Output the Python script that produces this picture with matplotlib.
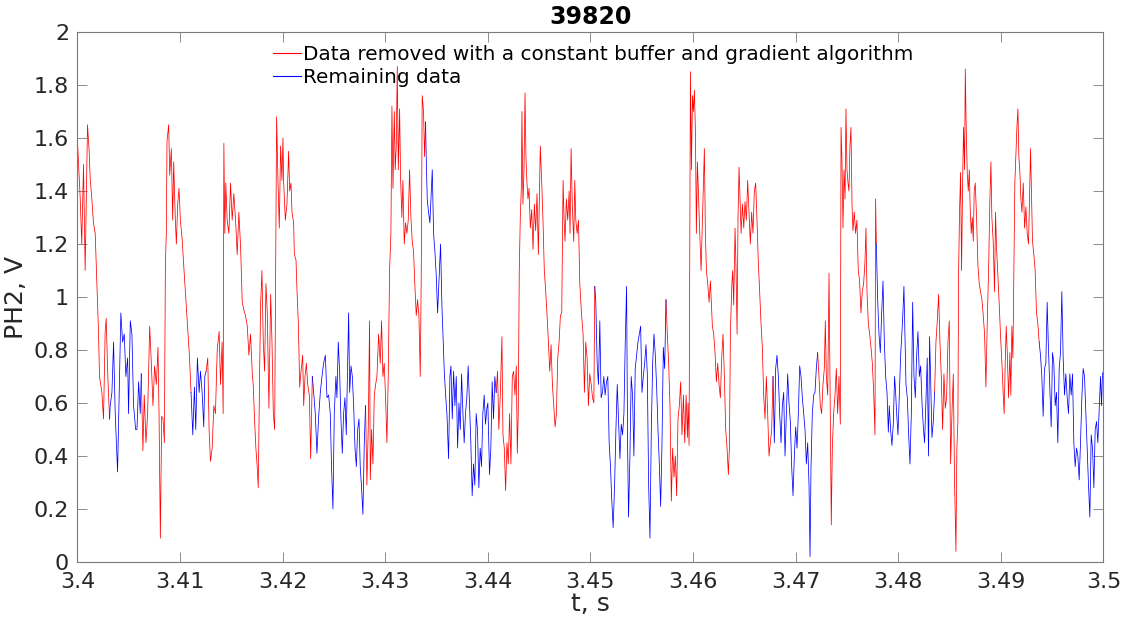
import numpy as np
import matplotlib
matplotlib.use("Agg")
from matplotlib import pyplot as plt

# time offsets in ms after 3.4 s, and PH2 signal in V
t_a = [0.00, 0.26, 0.42, 0.59, 0.75, 0.98, 1.14, 1.24, 1.40, 1.56, 1.73, 1.89, 2.05, 2.15, 2.38, 2.54,
       2.70, 2.80, 2.96, 3.13, 3.19, 3.36, 3.52, 3.68, 3.91, 4.10, 4.23, 4.40, 4.56, 4.72, 4.89, 4.98,
       5.15, 5.31, 5.47, 5.67, 5.80, 5.96, 6.12, 6.22, 6.38, 6.51, 6.68, 6.84, 7.04, 7.20, 7.36, 7.52,
       7.69, 7.85, 7.95, 8.08, 8.21, 8.34, 8.47, 8.57, 8.66, 8.73, 8.89, 8.99, 9.15, 9.28, 9.38, 9.54,
       9.64, 9.77, 9.90, 10.03, 10.20, 10.29, 10.42, 10.55, 10.65, 10.78, 10.91, 11.07, 11.24, 11.40,
       11.53, 11.69, 11.86, 11.99, 12.15, 12.31, 12.41, 12.54, 12.70, 12.83, 12.96, 13.13, 13.29, 13.45,
       13.62, 13.81, 13.94, 14.10, 14.20, 14.27, 14.36, 14.46, 14.59, 14.76, 14.92, 15.08, 15.24, 15.41,
       15.57, 15.73, 15.90, 16.06, 16.22, 16.38, 16.55, 16.71, 16.87, 17.04, 17.13, 17.26, 17.39, 17.52,
       17.62, 17.75, 17.85, 17.98, 18.11, 18.24, 18.37, 18.50, 18.66, 18.83, 18.96, 19.09, 19.22, 19.32,
       19.41, 19.54, 19.67, 19.80, 19.93, 20.03]
v_a = [1.59, 1.38, 1.20, 1.50, 1.10, 1.65, 1.55, 1.45, 1.37, 1.28, 1.24, 1.05, 0.87, 0.70, 0.64, 0.54,
       0.87, 0.92, 0.70, 0.54, 0.59, 0.64, 0.83, 0.56, 0.34, 0.70, 0.94, 0.83, 0.86, 0.70, 0.77, 0.56,
       0.91, 0.86, 0.59, 0.50, 0.50, 0.68, 0.56, 0.71, 0.42, 0.63, 0.45, 0.56, 0.89, 0.75, 0.59, 0.74,
       0.67, 0.81, 0.56, 0.09, 0.55, 0.54, 0.45, 1.12, 1.24, 1.59, 1.65, 1.46, 1.56, 1.29, 1.51, 1.29,
       1.20, 1.35, 1.41, 1.29, 1.22, 1.16, 1.08, 1.00, 0.94, 0.86, 0.78, 0.64, 0.48, 0.66,
       0.50, 0.77, 0.64, 0.72, 0.64, 0.51, 0.70, 0.72, 0.77, 0.50, 0.38, 0.43, 0.59, 0.56,
       0.80, 0.87, 0.67, 0.83, 0.56, 1.58, 1.24, 1.43, 1.29, 1.24, 1.43, 1.29, 1.39, 1.29,
       1.16, 1.32, 1.19, 0.98, 0.95, 0.93, 0.89, 0.78, 0.86, 0.71, 0.67, 0.54, 0.43, 0.36,
       0.28, 0.70, 0.97, 1.10, 0.83, 0.72, 1.05, 0.94, 0.58, 1.01, 0.83, 0.56, 0.50, 1.10,
       1.68, 1.44, 1.26, 1.57, 1.44, 1.60]

t_b = [20.10, 20.26, 20.42, 20.58, 20.68, 20.81, 20.91, 21.07, 21.14, 21.30, 21.40, 21.53, 21.66, 21.79,
       21.95, 22.05, 22.18, 22.31, 22.44, 22.60, 22.73, 22.89, 23.02, 23.18, 23.34, 23.51, 23.67, 23.83,
       23.99, 24.16, 24.32, 24.48, 24.64, 24.77, 24.90, 25.03, 25.19, 25.29, 25.42, 25.55, 25.68, 25.81,
       25.94, 26.07, 26.20, 26.33, 26.43, 26.53, 26.66, 26.79, 26.92, 27.05, 27.18, 27.31, 27.44, 27.56,
       27.69, 27.82, 27.95, 28.08, 28.21, 28.34, 28.47, 28.54, 28.67, 28.80, 28.93, 29.06, 29.19, 29.35,
       29.51, 29.64, 29.77, 29.90, 30.03, 30.16, 30.29, 30.42, 30.55, 30.65, 30.75, 30.88, 30.97, 31.07,
       31.17, 31.27, 31.40, 31.49, 31.62, 31.72, 31.85, 31.98, 32.11, 32.24, 32.37, 32.50, 32.63, 32.76,
       32.89, 33.02, 33.15, 33.28, 33.41, 33.51, 33.60, 33.73, 33.83, 33.93, 33.99, 34.09, 34.22, 34.35,
       34.45, 34.58, 34.71, 34.84, 34.97, 35.10, 35.26, 35.39, 35.52, 35.65, 35.75, 35.88, 36.01, 36.17,
       36.30, 36.40, 36.53, 36.66, 36.79, 36.92, 37.05, 37.18, 37.31, 37.44, 37.57, 37.69, 37.82, 37.95,
       38.08, 38.21, 38.34, 38.47, 38.60, 38.73, 38.86, 38.99, 39.12, 39.25, 39.38, 39.51, 39.64, 39.77,
       39.90]
v_b = [1.43, 1.29, 1.35, 1.55, 1.40, 1.43, 1.32, 1.28, 1.16, 1.14, 1.02, 0.90, 0.66, 0.72,
       0.78, 0.59, 0.70, 0.75, 0.67, 0.63, 0.39, 0.70, 0.64, 0.56, 0.41, 0.55, 0.64, 0.70,
       0.75, 0.78, 0.62, 0.63, 0.56, 0.35, 0.20, 0.56, 0.70, 0.62, 0.83, 0.72, 0.54, 0.41,
       0.56, 0.62, 0.48, 0.75, 0.94, 0.64, 0.74, 0.70, 0.59, 0.43, 0.36, 0.50, 0.54, 0.36,
       0.28, 0.18, 0.44, 0.59, 0.29, 0.50, 0.91, 0.31, 0.50, 0.37, 0.63, 0.67, 0.70, 0.86,
       0.75, 0.91, 0.70, 0.75, 0.62, 0.45, 0.70, 1.10, 1.24, 1.72, 1.41, 1.70, 1.48, 1.57,
       1.87, 1.48, 1.71, 1.45, 1.30, 1.44, 1.20, 1.28, 1.24, 1.29, 1.48, 1.30, 1.21, 1.17,
       1.04, 0.93, 0.99, 0.93, 0.70, 1.10, 1.76, 1.70, 1.53, 1.66, 1.53, 1.37, 1.32, 1.28,
       1.37, 1.48, 1.24, 1.17, 1.08, 0.94, 1.08, 1.20, 0.97, 0.83, 0.72, 0.63, 0.56, 0.39,
       0.70, 0.74, 0.54, 0.72, 0.59, 0.70, 0.43, 0.60, 0.50, 0.71, 0.56, 0.45, 0.56, 0.62,
       0.74, 0.59, 0.45, 0.25, 0.37, 0.29, 0.56, 0.50, 0.28, 0.43, 0.36, 0.56, 0.63, 0.52,
       0.58]

t_c = [40.00, 40.16, 40.29, 40.42, 40.55, 40.68, 40.81, 40.94, 41.07, 41.21, 41.37, 41.47, 41.60, 41.73,
       41.86, 41.99, 42.12, 42.25, 42.38, 42.51, 42.64, 42.77, 42.87, 42.96, 43.06, 43.16, 43.26, 43.32,
       43.42, 43.52, 43.62, 43.71, 43.81, 43.91, 44.01, 44.14, 44.27, 44.40, 44.53, 44.66, 44.79, 44.92,
       45.02, 45.11, 45.24, 45.37, 45.50, 45.64, 45.77, 45.90, 46.03, 46.16, 46.29, 46.42, 46.55, 46.68,
       46.81, 46.94, 47.07, 47.20, 47.33, 47.43, 47.52, 47.65, 47.78, 47.92, 48.01, 48.11, 48.24, 48.37,
       48.47, 48.57, 48.70, 48.83, 48.96, 49.12, 49.28, 49.41, 49.54, 49.67, 49.80, 49.93, 50.07, 50.20,
       50.33, 50.42, 50.52, 50.65, 50.78, 50.91, 51.04, 51.17, 51.30, 51.43, 51.56, 51.69, 51.82, 51.95,
       52.08, 52.21, 52.35, 52.48, 52.61, 52.74, 52.87, 53.00, 53.13, 53.26, 53.39, 53.52, 53.62, 53.71,
       53.84, 53.97, 54.10, 54.23, 54.36, 54.50, 54.63, 54.76, 54.89, 55.02, 55.15, 55.28, 55.41, 55.54,
       55.67, 55.80, 55.93, 56.06, 56.19, 56.32, 56.45, 56.58, 56.71, 56.84, 56.97, 57.10, 57.23, 57.36,
       57.49, 57.62, 57.75, 57.88, 58.01, 58.14, 58.27, 58.40, 58.53, 58.66, 58.79, 58.92, 59.06, 59.19,
       59.32, 59.45]
v_c = [0.60, 0.33, 0.43, 0.68, 0.54, 0.70, 0.64, 0.72, 0.50, 0.63, 0.85, 0.48, 0.43, 0.27,
       0.45, 0.37, 0.56, 0.37, 0.70, 0.72, 0.63, 0.74, 0.41, 0.56, 1.10, 1.30, 1.41, 1.70,
       1.35, 1.48, 1.77, 1.53, 1.43, 1.37, 1.41, 1.26, 1.33, 1.18, 1.35, 1.25, 1.39, 1.16,
       1.37, 1.57, 1.44, 1.29, 1.10, 1.02, 0.93, 0.83, 0.72, 0.82, 0.67, 0.59, 0.51, 0.56,
       0.77, 0.83, 0.93, 0.94, 1.44, 1.29, 1.21, 1.37, 1.29, 1.40, 1.24, 1.56, 1.33, 1.21,
       1.44, 1.29, 1.24, 1.29, 1.05, 0.94, 0.86, 0.64, 0.83, 0.77, 0.59, 0.71, 0.67, 0.62,
       0.60, 1.04, 0.98, 0.75, 0.67, 0.91, 0.62, 0.64, 0.70, 0.63, 0.68, 0.70, 0.45, 0.36,
       0.23, 0.13, 0.29, 0.50, 0.67, 0.53, 0.39, 0.52, 0.48, 0.56, 0.83, 1.04, 0.43, 0.17,
       0.39, 0.70, 0.63, 0.40, 0.73, 0.78, 0.83, 0.86, 0.89, 0.64, 0.70, 0.75, 0.82, 0.71,
       0.29, 0.09, 0.50, 0.75, 0.86, 0.78, 0.66, 0.50, 0.37, 0.21, 0.45, 0.81, 0.73, 0.99,
       0.86, 0.75, 0.59, 0.23, 0.43, 0.32, 0.40, 0.25, 0.54, 0.59, 0.68, 0.48, 0.63, 0.45,
       0.63, 0.47]

t_d = [59.51, 59.61, 59.68, 59.74, 59.84, 59.94, 60.03, 60.13, 60.23, 60.32, 60.42, 60.52, 60.58, 60.68,
       60.78, 60.88, 60.97, 61.10, 61.20, 61.30, 61.43, 61.56, 61.69, 61.79, 61.88, 62.01, 62.14, 62.27,
       62.40, 62.53, 62.66, 62.79, 62.92, 63.05, 63.18, 63.31, 63.44, 63.54, 63.64, 63.77, 63.86, 63.96,
       64.09, 64.19, 64.29, 64.38, 64.48, 64.58, 64.68, 64.81, 64.94, 65.06, 65.19, 65.32, 65.45, 65.58,
       65.71, 65.84, 65.97, 66.10, 66.23, 66.36, 66.49, 66.62, 66.75, 66.88, 67.01, 67.14, 67.27, 67.40,
       67.53, 67.66, 67.79, 67.92, 68.05, 68.18, 68.31, 68.44, 68.57, 68.70, 68.83, 68.96, 69.09, 69.22,
       69.35, 69.48, 69.61, 69.74, 69.87, 70.00, 70.13, 70.26, 70.39, 70.52, 70.65, 70.78, 70.91, 71.04,
       71.17, 71.30, 71.40, 71.49, 71.62, 71.75, 71.88, 72.01, 72.14, 72.27, 72.40, 72.53, 72.66, 72.79,
       72.89, 72.99, 73.12, 73.25, 73.38, 73.47, 73.57, 73.70, 73.83, 73.96, 74.09, 74.22, 74.35, 74.42,
       74.51, 74.61, 74.71, 74.81, 74.90, 75.00, 75.10, 75.19, 75.29, 75.39, 75.49, 75.58, 75.71, 75.84,
       75.97, 76.10, 76.23, 76.36, 76.49, 76.62, 76.75, 76.85, 76.95, 77.08, 77.21, 77.34, 77.47, 77.60,
       77.73, 77.79, 77.86, 77.99, 78.12, 78.25, 78.38, 78.51, 78.64, 78.77, 78.90, 79.03]
v_d = [0.60, 0.44, 1.24, 1.85, 1.48, 1.76, 1.70, 1.78, 1.62, 1.24, 1.51, 1.40, 1.32, 1.21,
       1.10, 1.24, 1.37, 1.56, 1.24, 1.10, 1.05, 0.98, 1.06, 0.97, 0.89, 0.86, 0.79, 0.68,
       0.75, 0.67, 0.62, 0.77, 0.86, 0.70, 0.50, 0.43, 0.33, 0.43, 0.87, 1.04, 1.10, 0.97,
       1.26, 1.10, 0.86, 1.30, 1.49, 1.37, 1.24, 1.35, 1.26, 1.36, 1.29, 1.44, 1.32, 1.20,
       1.32, 1.24, 1.40, 1.43, 1.29, 1.13, 1.02, 0.90, 0.81, 0.63, 0.54, 0.70, 0.56, 0.40,
       0.45, 0.50, 0.70, 0.45, 0.73, 0.78, 0.70, 0.56, 0.45, 0.59, 0.64, 0.40, 0.56, 0.71,
       0.60, 0.53, 0.36, 0.25, 0.40, 0.51, 0.43, 0.56, 0.74, 0.70, 0.62, 0.56, 0.50, 0.37,
       0.45, 0.29, 0.02, 0.35, 0.56, 0.63, 0.64, 0.73, 0.79, 0.70, 0.59, 0.56, 0.67, 0.73,
       0.91, 0.70, 0.63, 1.09, 0.50, 0.14, 0.43, 0.56, 0.63, 0.73, 0.56, 0.70, 0.52, 1.64,
       1.52, 1.26, 1.48, 1.37, 1.71, 1.48, 1.43, 1.40, 1.57, 1.64, 1.35, 1.25, 1.32, 1.24,
       1.29, 1.10, 1.06, 0.94, 1.02, 1.05, 1.13, 1.26, 1.02, 0.90, 0.86, 0.81, 0.75, 0.64,
       0.48, 1.37, 1.20, 0.99, 0.86, 0.79, 0.94, 1.06, 0.83, 0.70, 0.64, 0.49]

t_e = [79.12, 79.25, 79.38, 79.51, 79.64, 79.74, 79.84, 79.97, 80.10, 80.23, 80.36, 80.45, 80.55, 80.65,
       80.75, 80.88, 81.01, 81.14, 81.27, 81.40, 81.53, 81.66, 81.79, 81.92, 82.05, 82.18, 82.31, 82.44,
       82.56, 82.69, 82.82, 82.95, 83.05, 83.15, 83.28, 83.41, 83.54, 83.67, 83.80, 83.93, 84.06, 84.19,
       84.32, 84.45, 84.58, 84.71, 84.84, 84.97, 85.10, 85.23, 85.36, 85.49, 85.62, 85.71, 85.81, 85.88,
       85.97, 86.07, 86.17, 86.27, 86.36, 86.46, 86.53, 86.62, 86.72, 86.82, 86.92, 87.01, 87.11, 87.21,
       87.31, 87.40, 87.50, 87.63, 87.76, 87.89, 88.02, 88.15, 88.28, 88.41, 88.54, 88.67, 88.80, 88.93,
       89.03, 89.12, 89.25, 89.38, 89.48, 89.58, 89.71, 89.84, 89.97, 90.10, 90.23, 90.32, 90.42, 90.52,
       90.62, 90.75, 90.88, 90.97, 91.07, 91.17, 91.27, 91.36, 91.46, 91.56, 91.66, 91.75, 91.85, 91.95,
       92.05, 92.18, 92.31, 92.44, 92.56, 92.69, 92.79, 92.89, 92.99, 93.08, 93.21, 93.34, 93.47, 93.60,
       93.73, 93.86, 93.99, 94.12, 94.25, 94.38, 94.51, 94.64, 94.77, 94.90, 95.03, 95.16, 95.29, 95.42,
       95.55, 95.68, 95.81, 95.94, 96.07, 96.20, 96.33, 96.46, 96.59, 96.72, 96.85, 96.98, 97.11, 97.24,
       97.37, 97.50, 97.63, 97.76, 97.89, 98.02, 98.15, 98.28, 98.41, 98.54, 98.67, 98.80, 98.93, 99.06,
       99.19, 99.32, 99.45, 99.58, 99.71, 99.81, 99.90, 100.00]
v_e = [0.59, 0.50, 0.44, 0.52, 0.70, 0.64, 0.56, 0.48, 0.63, 0.78, 0.87, 0.94, 1.04, 0.86,
       0.67, 0.62, 0.48, 0.37, 0.56, 0.98, 0.70, 0.62, 0.78, 0.87, 0.70, 0.74, 0.60, 0.51,
       0.45, 0.60, 0.77, 0.40, 0.85, 0.70, 0.47, 0.53, 0.64, 0.83, 0.91, 1.01, 0.83, 0.70,
       0.50, 0.71, 0.58, 0.62, 0.83, 0.91, 0.37, 0.56, 0.71, 0.29, 0.04, 0.43, 0.53, 1.10,
       1.32, 1.47, 1.10, 1.44, 1.64, 1.48, 1.86, 1.64, 1.47, 1.40, 1.48, 1.33, 1.24, 1.30,
       1.21, 1.40, 1.43, 1.30, 1.12, 1.05, 1.02, 0.99, 0.93, 0.86, 0.66, 0.90, 1.10, 1.37,
       1.51, 1.30, 1.21, 1.02, 1.32, 1.18, 1.08, 0.97, 0.85, 0.75, 0.63, 0.56, 0.75, 0.89,
       0.79, 0.62, 0.79, 0.63, 0.89, 0.77, 1.10, 1.43, 1.53, 1.64, 1.71, 1.53, 1.47, 1.37,
       1.32, 1.43, 1.26, 1.34, 1.24, 1.20, 1.37, 1.56, 1.37, 1.21, 1.16, 1.10, 0.94, 0.90,
       0.83, 0.78, 0.70, 0.55, 0.73, 0.75, 0.98, 0.80, 0.66, 0.51, 0.79, 0.75, 0.59, 0.64,
       0.45, 0.73, 0.79, 1.02, 0.77, 0.63, 0.71, 0.62, 0.56, 0.71, 0.63, 0.71, 0.45, 0.36,
       0.43, 0.40, 0.31, 0.45, 0.62, 0.73, 0.70, 0.56, 0.43, 0.29, 0.17, 0.48, 0.43, 0.28,
       0.50, 0.53, 0.45, 0.58, 0.70, 0.59, 0.71, 0.72]

# stretches (ms after 3.4 s) that were kept by the algorithm
kept_ms = [(3.0, 6.25), (10.95, 12.55), (22.76, 28.1), (33.9, 40.9),
           (50.35, 57.45), (67.75, 72.25), (77.85, 83.65), (93.7, 100.0)]

t0 = 3.4
t = t0 + np.array(t_a + t_b + t_c + t_d + t_e) / 1000.0
ph2 = np.array(v_a + v_b + v_c + v_d + v_e)

kept = np.zeros(len(t), dtype=bool)
for lo, hi in kept_ms:
    kept |= (t >= t0 + lo / 1000.0) & (t <= t0 + hi / 1000.0)

# removed part: every sample not kept, plus its neighbours so the trace stays joined
removed = ~kept
removed_ext = removed.copy()
removed_ext[1:] |= removed[:-1]
removed_ext[:-1] |= removed[1:]
ph2_removed = np.where(removed_ext, ph2, np.nan)
ph2_kept = np.where(kept, ph2, np.nan)

plt.rcParams['font.family'] = ['DejaVu Sans']
fig = plt.figure(figsize=(11.34, 6.26), dpi=100)
ax = fig.add_axes([0.0683, 0.1022, 0.9048, 0.8467])

ax.plot(t, ph2_removed, color='red', linewidth=0.55,
        label='Data removed with a constant buffer and gradient algorithm')
ax.plot(t, ph2_kept, color='blue', linewidth=0.55, label='Remaining data')

ax.set_xlim(3.4, 3.5)
ax.set_ylim(0, 2)
xt = np.round(np.arange(3.4, 3.5001, 0.01), 2)
yt = np.round(np.arange(0, 2.001, 0.2), 1)
ax.set_xticks(xt)
ax.set_xticklabels(['%g' % v for v in xt])
ax.set_yticks(yt)
ax.set_yticklabels(['%g' % v for v in yt])

ax.tick_params(direction='in', top=True, right=True, length=7, width=0.6,
               color='#7a7a7a', labelsize=16, labelcolor='#262626', pad=6)
ax.tick_params(axis='x', pad=7)
for sp in ax.spines.values():
    sp.set_color('#7a7a7a')
    sp.set_linewidth(0.8)

ax.set_xlabel('t, s', fontsize=18, color='#262626', labelpad=0)
ax.set_ylabel('PH2, V', fontsize=18, color='#262626', labelpad=4)
ax.set_title('39820', fontsize=17, fontweight='bold', color='black', pad=6)

leg = ax.legend(loc='upper left', bbox_to_anchor=(0.1905, 0.976), frameon=False, fontsize=14.4,
                handlelength=1.4, handletextpad=0.12, borderpad=0, borderaxespad=0,
                labelspacing=0.2)
for h in leg.get_lines():
    h.set_linewidth(0.8)

fig.savefig('out.png', dpi=100)
